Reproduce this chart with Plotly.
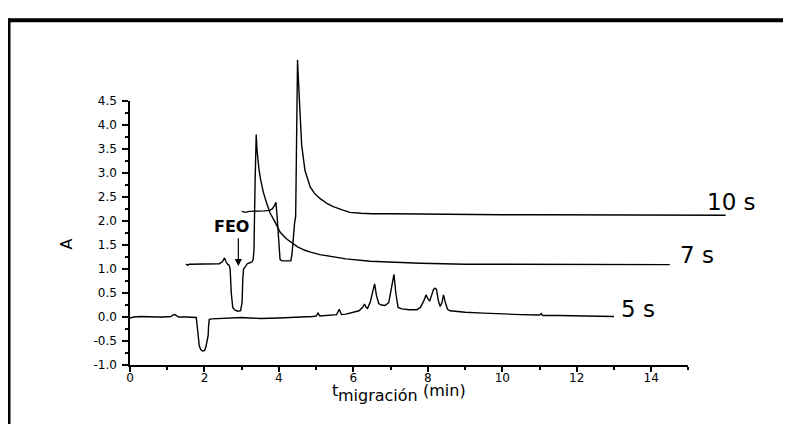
import plotly.graph_objects as go

# ---- data ----
x_5s = [0.0, 0.1, 0.3, 0.5, 0.7, 0.9, 1.1, 1.15, 1.2, 1.25, 1.3, 1.5, 1.7, 1.78, 1.82, 1.86, 1.9, 1.95,
        2.0, 2.04, 2.07, 2.09, 2.1, 2.11, 2.13, 2.2, 2.5, 2.8, 3.0, 3.2, 3.5, 4.0, 4.5, 4.9, 5.0, 5.05,
        5.1, 5.3, 5.55, 5.62, 5.65, 5.68, 5.8, 6.0, 6.15, 6.25, 6.3, 6.34, 6.38, 6.45, 6.52, 6.57, 6.62,
        6.68, 6.75, 6.85, 6.95, 7.02, 7.09, 7.14, 7.2, 7.3, 7.5, 7.7, 7.8, 7.9, 7.95, 8.0, 8.05, 8.1,
        8.15, 8.19, 8.23, 8.28, 8.33, 8.38, 8.42, 8.47, 8.53, 8.6, 8.7, 9.0, 9.5, 10.0, 10.5, 11.0,
        11.05, 11.07, 11.1, 11.5, 12.0, 12.5, 13.0]
y_5s = [-0.02, 0.0, 0.01, 0.0, 0.0, 0.0, 0.01, 0.04, 0.05, 0.03, 0.0, 0.0, 0.0, -0.01, -0.3, -0.6,
        -0.68, -0.71, -0.7, -0.62, -0.5, -0.42, -0.38, -0.2, -0.05, -0.04, -0.03, -0.02, -0.01, -0.02,
        -0.03, -0.02, -0.01, 0.01, 0.02, 0.08, 0.02, 0.03, 0.05, 0.16, 0.1, 0.05, 0.06, 0.1, 0.13, 0.2,
        0.27, 0.2, 0.18, 0.3, 0.55, 0.69, 0.45, 0.28, 0.25, 0.24, 0.3, 0.6, 0.89, 0.5, 0.2, 0.17, 0.15,
        0.15, 0.2, 0.35, 0.46, 0.38, 0.33, 0.45, 0.57, 0.6, 0.58, 0.35, 0.22, 0.3, 0.46, 0.3, 0.16,
        0.13, 0.12, 0.1, 0.08, 0.06, 0.05, 0.04, 0.07, 0.04, 0.03, 0.03, 0.02, 0.01, 0.01]

x_7s = [1.5, 1.55, 1.6, 1.8, 2.0, 2.2, 2.4, 2.48, 2.54, 2.58, 2.62, 2.66, 2.69, 2.72, 2.76, 2.82, 2.9,
        2.97, 3.01, 3.03, 3.05, 3.1, 3.15, 3.22, 3.28, 3.31, 3.33, 3.36, 3.39, 3.41, 3.43, 3.46, 3.5,
        3.58, 3.68, 3.76, 3.9, 4.03, 4.2, 4.35, 4.5, 4.7, 4.85, 5.1, 5.4, 5.8, 6.45, 7.0, 7.8, 9.0,
        10.0, 11.0, 12.0, 13.0, 14.0, 14.5]
y_7s = [1.1, 1.08, 1.1, 1.1, 1.1, 1.1, 1.11, 1.15, 1.23, 1.15, 1.1, 1.08, 1.0, 0.5, 0.2, 0.14, 0.12,
        0.13, 0.3, 0.8, 1.0, 1.05, 1.11, 1.13, 1.15, 1.2, 1.4, 2.8, 3.8, 3.5, 3.3, 3.1, 2.9, 2.6, 2.35,
        2.17, 1.97, 1.77, 1.63, 1.54, 1.46, 1.39, 1.35, 1.3, 1.26, 1.21, 1.16, 1.14, 1.12, 1.1, 1.1,
        1.1, 1.1, 1.1, 1.09, 1.09]

x_10s = [3.0, 3.1, 3.2, 3.4, 3.6, 3.75, 3.82, 3.88, 3.92, 3.96, 4.0, 4.03, 4.08, 4.15, 4.25, 4.32,
         4.35, 4.37, 4.42, 4.45, 4.48, 4.5, 4.52, 4.54, 4.58, 4.61, 4.7, 4.78, 4.84, 4.95, 5.1, 5.3,
         5.46, 5.7, 5.91, 6.2, 6.5, 7.0, 8.0, 9.0, 10.0, 11.0, 12.0, 13.0, 14.0, 15.0, 16.0]
y_10s = [2.2, 2.18, 2.2, 2.2, 2.21, 2.22, 2.25, 2.32, 2.39, 2.0, 1.4, 1.2, 1.17, 1.17, 1.17, 1.17,
         1.3, 1.55, 1.95, 2.1, 3.5, 5.36, 5.0, 4.61, 4.0, 3.59, 3.05, 2.85, 2.71, 2.58, 2.47, 2.36,
         2.3, 2.23, 2.18, 2.16, 2.15, 2.15, 2.14, 2.14, 2.13, 2.13, 2.13, 2.12, 2.12, 2.12, 2.12]

series_names = ["5 s", "7 s", "10 s"]
x_ticks = [0, 2, 4, 6, 8, 10, 12, 14]
y_ticks = [-1.0, -0.5, 0.0, 0.5, 1.0, 1.5, 2.0, 2.5, 3.0, 3.5, 4.0, 4.5]

# ---- layout geometry (figure pixels; page adds an 8 px body margin) ----
OFF = 8
W, H = 791, 424
L, R, T, B = 122, 20, 12, 67
pw, ph = W - L - R, H - T - B
px_per_x = 37.23
px_per_y = 49.0
x_dom_end = 15 * px_per_x / pw
y_dom_end = 5.5 * px_per_y / ph
x2_max = pw / px_per_x
y2_max = -1 + ph / px_per_y

def px(xr):
    """reference-picture x pixel -> paper coordinate"""
    return (xr - OFF - L) / pw

def py(yr):
    """reference-picture y pixel -> paper coordinate"""
    return (H - B - (yr - OFF)) / ph

fig = go.Figure()
# empty trace to keep the visible axis pair alive
fig.add_trace(go.Scatter(x=[], y=[], xaxis="x", yaxis="y", showlegend=False))

line = dict(color="black", width=1.4)
for name, xs, ys in zip(series_names, [x_5s, x_7s, x_10s], [y_5s, y_7s, y_10s]):
    fig.add_trace(go.Scatter(x=xs, y=ys, mode="lines", line=line, name=name,
                             xaxis="x2", yaxis="y2", showlegend=False, hoverinfo="skip"))

FONT = "DejaVu Sans"
tickfont = dict(family=FONT, size=12, color="black")
fig.update_layout(
    width=W, height=H,
    margin=dict(l=L, r=R, t=T, b=B),
    paper_bgcolor="white", plot_bgcolor="rgba(0,0,0,0)",
    showlegend=False,
    xaxis=dict(domain=[0, x_dom_end], range=[0, 15], anchor="y",
               showline=True, linecolor="black", linewidth=1.5, mirror=False,
               showgrid=False, zeroline=False,
               ticks="outside", ticklen=5, tickwidth=1.5, tickcolor="black",
               ticklabelstandoff=-4,
               tickvals=x_ticks, ticktext=[str(v) for v in x_ticks], tickfont=tickfont,
               minor=dict(dtick=1, tick0=0, ticks="outside", ticklen=3, tickwidth=1.5,
                          tickcolor="black", showgrid=False)),
    yaxis=dict(domain=[0, y_dom_end], range=[-1.0, 4.5], anchor="x",
               showline=True, linecolor="black", linewidth=1.5,
               showgrid=False, zeroline=False,
               ticks="outside", ticklen=6, tickwidth=1.5, tickcolor="black",
               ticklabelstandoff=3,
               tickvals=y_ticks, ticktext=[f"{v:.1f}" for v in y_ticks], tickfont=tickfont,
               minor=dict(dtick=0.25, tick0=0, ticks="outside", ticklen=3, tickwidth=1.5,
                          tickcolor="black", showgrid=False)),
    xaxis2=dict(domain=[0, 1], range=[0, x2_max], anchor="y2", visible=False),
    yaxis2=dict(domain=[0, 1], range=[-1.0, y2_max], anchor="x2", visible=False),
)

# outer frame (top and left thick borders)
fig.add_shape(type="line", xref="paper", yref="paper", x0=px(8.5), x1=px(805), y0=py(13), y1=py(13),
              line=dict(color="black", width=4))
fig.add_shape(type="line", xref="paper", yref="paper", x0=px(9), x1=px(9), y0=py(11), y1=py(440),
              line=dict(color="black", width=3))

# series labels
lab_font = dict(family=FONT, size=23, color="black")
for name, xl, yl in [("10 s", 15.44, 2.39), ("7 s", 14.72, 1.29), ("5 s", 13.13, 0.16)]:
    fig.add_annotation(x=xl, y=yl, xref="x2", yref="y2", text=name, showarrow=False,
                       xanchor="left", yanchor="middle", font=lab_font)

# FEO arrow + label
fig.add_annotation(x=2.91, y=1.06, ax=2.91, ay=1.67, xref="x2", yref="y2", axref="x2", ayref="y2",
                   text="", showarrow=True, arrowhead=2, arrowsize=1.2, arrowwidth=1.2, arrowcolor="black")
fig.add_annotation(x=2.73, y=1.88, xref="x2", yref="y2", text="<b>FEO</b>", showarrow=False,
                   xanchor="center", yanchor="middle",
                   font=dict(family=FONT, size=16, color="black"))

# axis titles
fig.add_annotation(x=px(66), y=py(242), xref="paper", yref="paper", text="A", textangle=-90,
                   showarrow=False, xanchor="center", yanchor="middle",
                   font=dict(family=FONT, size=16, color="black"))
for txt, xr, yr, fs in [("t", 330, 391, 16), ("migración", 336, 396, 16), ("(min)", 421, 391, 16)]:
    fig.add_annotation(x=px(xr), y=py(yr), xref="paper", yref="paper", text=txt, showarrow=False,
                       xanchor="left", yanchor="middle",
                       font=dict(family=FONT, size=fs, color="black"))

fig.write_html("out.html")
